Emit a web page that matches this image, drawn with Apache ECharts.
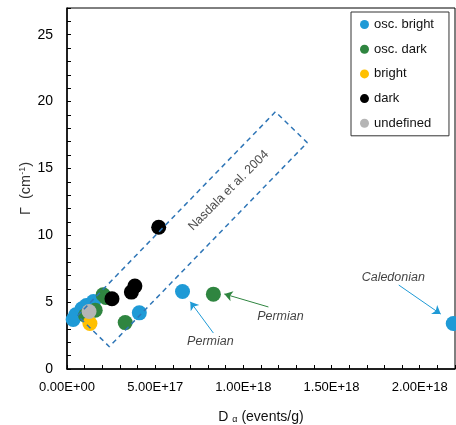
<!DOCTYPE html>
<html><head><meta charset="utf-8">
<script src="https://cdn.jsdelivr.net/npm/echarts@6/dist/echarts.min.js"></script>
<style>html,body{margin:0;padding:0;background:#fff}#c{width:456px;height:425px}</style>
</head><body><div id="c"></div>
<script>
// ---- data ----
const oscBright = [[0.35e17,3.7],[0.5e17,4.05],[0.85e17,4.5],[1.1e17,4.75],[1.5e17,5.05],[4.1e17,4.2],[6.55e17,5.8],[2.19e18,3.4]];
const oscDark = [[1.05e17,4.0],[1.6e17,4.4],[2.05e17,5.55],[2.2e17,5.35],[3.3e17,3.47],[8.3e17,5.6]];
const bright = [[1.3e17,3.4]];
const dark = [[2.55e17,5.25],[3.65e17,5.75],[3.85e17,6.2],[5.2e17,10.6]];
const undef = [[1.25e17,4.3]];
const seriesNames = ['osc. bright','osc. dark','bright','dark','undefined'];
const xTickValues = [0, 5e17, 1e18, 1.5e18, 2e18];
const xTickLabels = ['0.00E+00','5.00E+17','1.00E+18','1.50E+18','2.00E+18'];
const yTickValues = [0,5,10,15,20,25];
const yTickLabels = ['0','5','10','15','20','25'];
// Nasdala et al. 2004 field (corners, data coords)
const boxCorners = [[0.6e17,3.99],[11.82e17,19.24],[13.62e17,16.93],[2.4e17,1.67],[0.6e17,3.99]];
const boxLabel = {text:'Nasdala et al. 2004', at:[9.16e17,13.35]};
// annotations: text position, arrow start, arrow end
const annotTexts = [
  {text:'Caledonian', at:[18.5e17,6.86], colorKey:0},
  {text:'Permian', at:[12.1e17,3.91], colorKey:1},
  {text:'Permian', at:[8.13e17,2.04], colorKey:0}
];
const annotArrows = [
  {from:[18.81e17,6.28], to:[21.19e17,4.11], colorKey:0},
  {from:[11.42e17,4.64], to:[8.92e17,5.61], colorKey:1},
  {from:[8.30e17,2.69], to:[6.99e17,5.03], colorKey:0}
];

const colors = ['#1f9ad6','#2f8540','#ffc000','#000000','#b5b5b5'];
const seriesData = [oscBright, oscDark, bright, dark, undef];
const FONT = 'Liberation Sans, Arial, sans-serif';

const chart = echarts.init(document.getElementById('c'));
const series = seriesData.map((d,i)=>({
  name: seriesNames[i], type:'scatter', data:d, symbolSize:15,
  itemStyle:{color:colors[i], opacity:1}, z:3
}));
series.push({
  name:'box', type:'line', data:boxCorners, symbol:'none', z:4,
  lineStyle:{color:'#2e75b6', width:1.5, type:[5,4]},
  markLine:{
    silent:true, animation:false,
    symbol:['none','arrow'], symbolSize:8,
    label:{show:false},
    data: annotArrows.map(a=>[
      {coord:a.from, lineStyle:{color:colors[a.colorKey], width:1, type:'solid'}},
      {coord:a.to, lineStyle:{color:colors[a.colorKey], width:1, type:'solid'}}
    ])
  }
});
series.push({
  name:'labels', type:'scatter', symbolSize:0, z:5, silent:true,
  data: annotTexts.map(t=>({value:t.at, name:t.text,
    label:{show:true, position:'inside', formatter:t.text, fontStyle:'italic', fontSize:12.5, color:'#111', fontFamily:FONT}}))
    .concat([{value:boxLabel.at, name:boxLabel.text,
    label:{show:true, position:'inside', formatter:boxLabel.text, rotate:45, fontSize:12.5, color:'#222', fontFamily:FONT}}])
});

chart.setOption({
  animation:false,
  grid:{left:67, right:1, top:8, bottom:56, show:true, borderColor:'#000', borderWidth:1,
    containLabel:false, outerBoundsMode:'none'},
  legend:{
    data: seriesNames, orient:'vertical', left:351, top:12,
    padding:[6,15,6,9], itemGap:11.7, itemWidth:9, itemHeight:9, icon:'circle',
    borderColor:'#333', borderWidth:1, backgroundColor:'#fff',
    textStyle:{fontSize:13, color:'#111', fontFamily:FONT}
  },
  xAxis:{
    type:'value', min:0, max:2.2e18, interval:1e17,
    splitLine:{show:false},
    axisLine:{lineStyle:{color:'#000', width:1.5}},
    axisTick:{inside:true, length:4, lineStyle:{color:'#000'}},
    axisLabel:{fontSize:13, color:'#000', fontFamily:FONT, margin:12,
      formatter:v=>{const k=xTickValues.findIndex(t=>Math.abs(t-v)<1e15); return k>=0?xTickLabels[k]:'';}},
    name:'D {sub|α} (events/g)', nameLocation:'middle', nameGap:41, nameMoveOverlap:false,
    nameTextStyle:{fontSize:14, color:'#111', fontFamily:FONT,
      rich:{sub:{fontSize:9, verticalAlign:'bottom', padding:[4,0,0,0], fontFamily:FONT, color:'#111'}}}
  },
  yAxis:{
    type:'value', min:0, max:27, interval:1,
    splitLine:{show:false},
    axisLine:{lineStyle:{color:'#000', width:1.5}},
    axisTick:{inside:true, length:4, lineStyle:{color:'#000'}},
    axisLabel:{fontSize:14, color:'#000', fontFamily:FONT, margin:14,
      formatter:v=>{const k=yTickValues.indexOf(Math.round(v)); return (k>=0 && Math.abs(v-Math.round(v))<1e-6)?yTickLabels[k]:'';}},
    name:'Γ  (cm{sup|-1})', nameLocation:'middle', nameGap:34, nameRotate:90, nameMoveOverlap:false,
    nameTextStyle:{fontSize:14.5, color:'#333', fontFamily:FONT,
      rich:{sup:{fontSize:9, verticalAlign:'top', padding:[0,0,6,0], fontFamily:FONT, color:'#333'}}}
  },
  series: series
});
</script></body></html>
